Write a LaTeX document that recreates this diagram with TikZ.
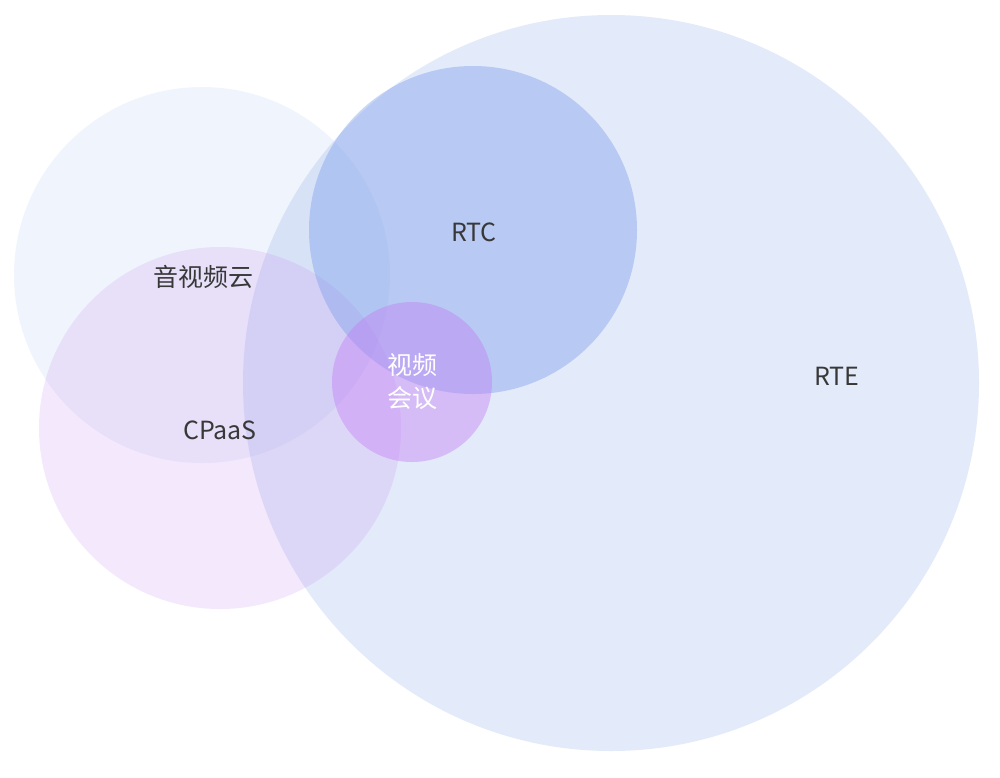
\documentclass[tikz,border=0pt]{standalone}
\usepackage{fontspec}
\setmainfont{Noto Sans CJK SC}
\begin{document}
\begin{tikzpicture}[x=1pt,y=-1pt,
  lbl/.style={font=\fontsize{25}{28}\selectfont, text=black!78},
  circ/.style={draw=none}]
\useasboundingbox (0,0) rectangle (1000,777);
\fill[white] (0,0) rectangle (1000,777);
\fill[circ, fill={rgb,255:red,110;green,145;blue,225}, fill opacity=0.19] (611,383) circle (368);
\fill[circ, fill={rgb,255:red,150;green,180;blue,240}, fill opacity=0.14] (202,275) circle (188);
\fill[circ, fill={rgb,255:red,200;green,140;blue,240}, fill opacity=0.2] (220,428) circle (181);
\fill[circ, fill={rgb,255:red,120;green,155;blue,235}, fill opacity=0.4] (473,230) circle (164);
\fill[circ, fill={rgb,255:red,195;green,125;blue,245}, fill opacity=0.42] (412,382) circle (80);
\node[lbl] (rte) at (837,376) {RTE};
\node[lbl] (rtc) at (474,232) {RTC};
\node[lbl] (yun) at (203,277) {音视频云};
\node[lbl] (cpaas) at (220,430) {CPaaS};
\node[lbl, text=white, align=center, font=\fontsize{25}{33}\selectfont] (hy) at (412,382) {视频\\会议};
\end{tikzpicture}
\end{document}
